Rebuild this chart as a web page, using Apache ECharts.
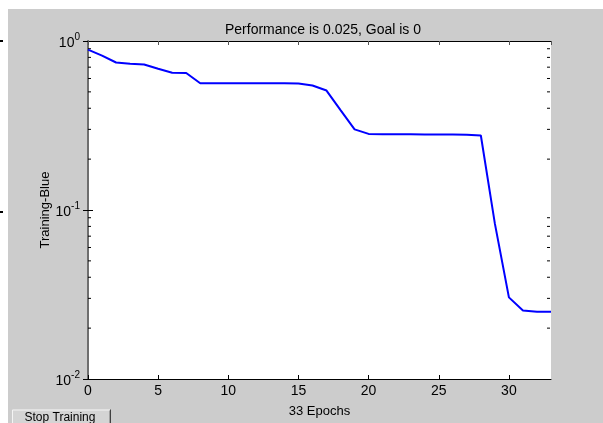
<!DOCTYPE html>
<html>
<head>
<meta charset="utf-8">
<script src="https://cdn.jsdelivr.net/npm/echarts@6/dist/echarts.min.js"></script>
<style>
html,body{margin:0;padding:0;background:#fff;}
#c{width:603px;height:423px;}
</style>
</head>
<body>
<div id="c"></div>
<script>
// ---- data ----
var epochs = [0,1,2,3,4,5,6,7,8,9,10,11,12,13,14,15,16,17,18,19,20,21,22,23,24,25,26,27,28,29,30,31,32,33];
var performance = [0.889,0.82,0.746,0.733,0.726,0.685,0.649,0.647,0.562,0.562,0.562,0.562,0.562,0.562,0.562,0.56,0.545,0.509,0.39,0.30,0.282,0.281,0.281,0.281,0.28,0.28,0.28,0.279,0.276,0.083,0.0304,0.0254,0.025,0.025];
var titleText = 'Performance is 0.025, Goal is 0';
var xAxisName = '33 Epochs';
var yAxisName = 'Training-Blue';
var xTickStep = 5;
var yMin = 0.01, yMax = 1;
var yMinorTickValues = [0.02,0.03,0.04,0.05,0.06,0.07,0.08,0.09,0.2,0.3,0.4,0.5,0.6,0.7,0.8,0.9];
var buttonText = 'Stop Training';

var FONT = '"Liberation Sans", Arial, sans-serif';
var chart = echarts.init(document.getElementById('c'), null, {renderer:'canvas'});

var lineData = epochs.map(function(e,i){ return [e, performance[i]]; });
var minorData = yMinorTickValues.map(function(v){ return [0, v]; });

var option = {
  backgroundColor: '#cccccc',
  animation: false,
  title: {
    text: titleText, left: 318, top: 18, textAlign: 'center',
    textStyle: {fontFamily: FONT, fontSize: 14, fontWeight: 'normal', color: '#000'}
  },
  grid: {left: 88, right: 52, top: 41, bottom: 40, show: true, backgroundColor: '#fff', borderWidth: 0},
  xAxis: [{
    type: 'value', min: 0, max: 33, interval: xTickStep, position: 'bottom',
    name: xAxisName, nameLocation: 'middle', nameGap: 26, nameMoveOverlap: false,
    nameTextStyle: {fontFamily: FONT, fontSize: 13, color: '#000'},
    axisLine: {show: true, lineStyle: {color: '#000', width: 1}},
    axisTick: {show: true, inside: true, length: 4, lineStyle: {color: '#000'}},
    axisLabel: {fontFamily: FONT, fontSize: 14, color: '#000', margin: 5, showMaxLabel: false},
    splitLine: {show: false}
  },{
    type: 'value', min: 0, max: 33, interval: xTickStep, position: 'top',
    axisLine: {show: true, lineStyle: {color: '#000', width: 1}},
    axisTick: {show: true, inside: true, length: 4, lineStyle: {color: '#555'}},
    axisLabel: {show: false}, splitLine: {show: false}
  }],
  yAxis: [{
    type: 'log', logBase: 10, min: yMin, max: yMax, position: 'left',
    name: yAxisName, nameLocation: 'middle', nameGap: 36, nameRotate: 90, nameMoveOverlap: false,
    nameTextStyle: {fontFamily: FONT, fontSize: 13, color: '#000'},
    axisLine: {show: true, lineStyle: {color: '#000', width: 1}},
    axisTick: {show: true, inside: true, length: 5, lineStyle: {color: '#000'}},
    axisLabel: {
      margin: 8, color: '#000',
      formatter: function(v){ var e = Math.round(Math.log(v)/Math.LN10); return '{b|10}{e|' + e + '}'; },
      rich: {
        b: {fontFamily: FONT, fontSize: 14, color: '#000', verticalAlign: 'bottom'},
        e: {fontFamily: FONT, fontSize: 10, color: '#000', verticalAlign: 'bottom', padding: [0,0,8,0]}
      }
    },
    splitLine: {show: false}
  },{
    type: 'log', logBase: 10, min: yMin, max: yMax, position: 'right',
    axisLine: {show: true, lineStyle: {color: '#6e6e6e', width: 2}},
    axisTick: {show: true, inside: true, length: 5, lineStyle: {color: '#000'}},
    axisLabel: {show: false}, splitLine: {show: false}
  }],
  series: [{
    type: 'line', data: lineData, xAxisIndex: 0, yAxisIndex: 0,
    showSymbol: false, symbol: 'none',
    lineStyle: {color: '#0000ff', width: 2}, itemStyle: {color: '#0000ff'}, z: 3
  },{
    type: 'custom', xAxisIndex: 0, yAxisIndex: 0, data: minorData, clip: false, silent: true,
    renderItem: function(params, api){
      var v = api.value(1);
      var pl = api.coord([0, v]);
      var pr = api.coord([33, v]);
      return {type: 'group', children: [
        {type: 'line', shape: {x1: pl[0], y1: pl[1], x2: pl[0] + 3, y2: pl[1]}, style: {stroke: '#000', lineWidth: 1}},
        {type: 'line', shape: {x1: pr[0] - 1, y1: pr[1], x2: pr[0] - 4, y2: pr[1]}, style: {stroke: '#000', lineWidth: 1}}
      ]};
    }
  }],
  graphic: [
    {type: 'rect', left: 0, top: 0, shape: {width: 603, height: 9}, style: {fill: '#fff'}, z: -10, silent: true},
    {type: 'rect', left: 0, top: 0, shape: {width: 8, height: 423}, style: {fill: '#fff'}, z: -10, silent: true},
    {type: 'rect', left: 0, top: 40, shape: {width: 3, height: 2}, style: {fill: '#000'}, silent: true},
    {type: 'rect', left: 0, top: 211, shape: {width: 3, height: 2}, style: {fill: '#000'}, silent: true},
    {type: 'group', left: 10, top: 407, children: [
      {type: 'rect', shape: {x: 0, y: 0, width: 99, height: 16}, style: {fill: '#d4d4d4', stroke: null}},
      {type: 'line', shape: {x1: 0.5, y1: 0.5, x2: 98, y2: 0.5}, style: {stroke: '#f4f4f4', lineWidth: 1}},
      {type: 'line', shape: {x1: 0.5, y1: 0.5, x2: 0.5, y2: 16}, style: {stroke: '#f4f4f4', lineWidth: 1}},
      {type: 'line', shape: {x1: 98.5, y1: 0, x2: 98.5, y2: 16}, style: {stroke: '#404040', lineWidth: 1}},
      {type: 'line', shape: {x1: 97.5, y1: 1, x2: 97.5, y2: 16}, style: {stroke: '#a0a0a0', lineWidth: 1}},
      {type: 'text', x: 48, y: 8, style: {text: buttonText, fontFamily: FONT, fontSize: 12, fill: '#000', align: 'center', verticalAlign: 'middle'}}
    ]}
  ]
};
chart.setOption(option);
</script>
</body>
</html>
